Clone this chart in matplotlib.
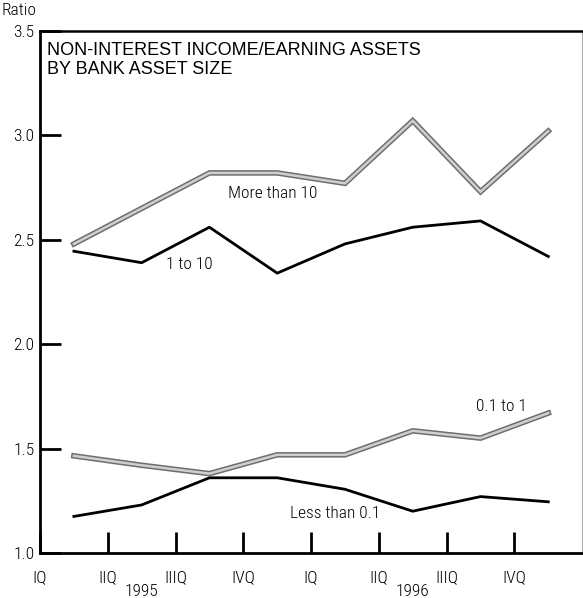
import matplotlib
matplotlib.use("Agg")
import matplotlib.pyplot as plt
import matplotlib.patheffects as pe
import matplotlib.transforms as mtransforms
import numpy as np

# quarterly ratios, 1995 IQ .. 1996 IVQ
quarters = ["IQ", "IIQ", "IIIQ", "IVQ", "IQ", "IIQ", "IIIQ", "IVQ"]
years = ["1995", "1996"]
more_than_10 = [2.48, 2.65, 2.82, 2.82, 2.77, 3.07, 2.73, 3.02]
one_to_10 = [2.445, 2.39, 2.56, 2.34, 2.48, 2.56, 2.59, 2.42]
tenth_to_1 = [1.465, 1.42, 1.38, 1.47, 1.47, 1.585, 1.55, 1.67]
less_than_tenth = [1.175, 1.23, 1.36, 1.36, 1.305, 1.20, 1.27, 1.245]
yticks = [1.0, 1.5, 2.0, 2.5, 3.0, 3.5]

narrow = ["Roboto Condensed", "PT Sans Narrow", "DejaVu Sans"]
plt.rcParams["font.family"] = ["Liberation Sans", "DejaVu Sans"]
nfont = dict(family=narrow, fontsize=12.5, fontweight="light")

fig = plt.figure(figsize=(5.83, 5.98), dpi=100)
ax = fig.add_axes([0.0686, 0.0753, 0.930, 0.873])

x = np.arange(len(quarters)) + 0.5

# gray series drawn as a light line with a darker rim
gray_fx = [pe.Stroke(linewidth=4.0, foreground="#6e6e6e"), pe.Normal()]
ax.plot(x, more_than_10, color="#cfcfcf", lw=1.8, solid_joinstyle="miter",
        path_effects=gray_fx, zorder=3)
ax.plot(x, tenth_to_1, color="#cfcfcf", lw=1.8, solid_joinstyle="miter",
        path_effects=gray_fx, zorder=3)
ax.plot(x, one_to_10, color="black", lw=2.0, zorder=3)
ax.plot(x, less_than_tenth, color="black", lw=2.0, zorder=3)

ax.text(3.44, 2.72, "More than 10", ha="center", va="center", **nfont)
ax.text(2.21, 2.38, "1 to 10", ha="center", va="center", **nfont)
ax.text(6.81, 1.70, "0.1 to 1", ha="center", va="center", **nfont)
ax.text(4.35, 1.19, "Less than 0.1", ha="center", va="center", **nfont)

ax.set_xlim(0, 8)
ax.set_ylim(1.0, 3.5)
ax.set_yticks(yticks)
ax.set_yticklabels([f"{v:.1f}" for v in yticks], **nfont)
ax.set_xticks(np.arange(len(quarters)))
ax.set_xticklabels(quarters, **nfont)
ax.tick_params(axis="both", direction="in", length=15, width=2)
ax.tick_params(axis="x", pad=12)
ax.tick_params(axis="y", pad=4)

# year captions centred under each group of four quarters
yr_trans = mtransforms.blended_transform_factory(ax.transData, fig.transFigure)
for i, yr in enumerate(years):
    ax.text(1.5 + 4 * i, 0.004, yr, transform=yr_trans,
            ha="center", va="baseline", **nfont)

ax.spines["left"].set_linewidth(2)
ax.spines["bottom"].set_linewidth(2)
ax.spines["top"].set_linewidth(1.8)
ax.spines["right"].set_linewidth(0.8)
ax.spines["right"].set_color("#aaaaaa")

ax.text(0.012, 0.978, "NON-INTEREST INCOME/EARNING ASSETS\nBY BANK ASSET SIZE",
        transform=ax.transAxes, fontsize=13, ha="left", va="top",
        linespacing=1.1)
fig.text(0.002, 0.995, "Ratio", ha="left", va="top", **nfont)

fig.savefig("out.png", dpi=100)
